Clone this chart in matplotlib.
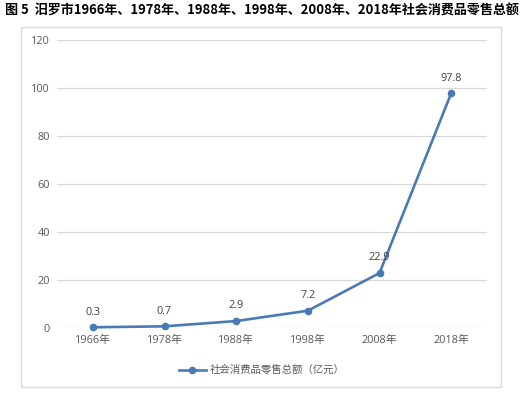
import matplotlib.pyplot as plt
from matplotlib.patches import Rectangle

plt.rcParams['font.family'] = ['Open Sans', 'Noto Sans CJK SC', 'DejaVu Sans']

# data
years = ["1966年", "1978年", "1988年", "1998年", "2008年", "2018年"]
sales = [0.3, 0.7, 2.9, 7.2, 22.9, 97.8]
yticks = [0, 20, 40, 60, 80, 100, 120]
series_name = "社会消费品零售总额（亿元）"
title = "图 5  汨罗市1966年、1978年、1988年、1998年、2008年、2018年社会消费品零售总额"

W, H = 523, 393
fig = plt.figure(figsize=(W / 100, H / 100), dpi=100)

# outer light border box
fig.patches.append(Rectangle((21 / W, 1 - 387 / H), 480 / W, 360 / H,
                             transform=fig.transFigure, fill=False,
                             edgecolor='#d9d9d9', lw=1))

ax = fig.add_axes([57 / W, 1 - 328 / H, 430 / W, 288 / H])
x = list(range(len(years)))
color = '#4a7ab5'
ax.plot(x, sales, color=color, lw=1.9, marker='o', markersize=4.5,
        label=series_name, zorder=3, clip_on=False)

for xi, v in zip(x, sales):
    ax.annotate(str(v), (xi, v), xytext=(0, 7), textcoords='offset points',
                ha='center', va='bottom', fontsize=7.8, color='#404040')

ax.set_xlim(-0.5, len(years) - 0.5)
ax.set_ylim(0, 120)
ax.set_yticks(yticks)
ax.set_xticks(x)
ax.set_xticklabels(years)
ax.grid(axis='y', color='#d9d9d9', lw=0.9)
ax.set_axisbelow(True)
for s in ax.spines.values():
    s.set_visible(False)
ax.tick_params(length=0, labelsize=7.8, labelcolor='#595959')
ax.tick_params(axis='y', pad=5)
ax.tick_params(axis='x', pad=5)

leg = ax.legend(loc='center', bbox_to_anchor=(262 / W, 1 - 370 / H),
                bbox_transform=fig.transFigure, frameon=False,
                prop={'family': ['Noto Sans CJK SC'], 'size': 7.5},
                handlelength=2.6, handletextpad=0.4)
for t in leg.get_texts():
    t.set_color('#595959')

fig.text(5 / W, 1 - 11 / H, title, fontsize=9.4, fontweight='bold',
         family=['Noto Sans CJK SC'], va='center', ha='left', color='black')

fig.savefig('out.png', dpi=100)
